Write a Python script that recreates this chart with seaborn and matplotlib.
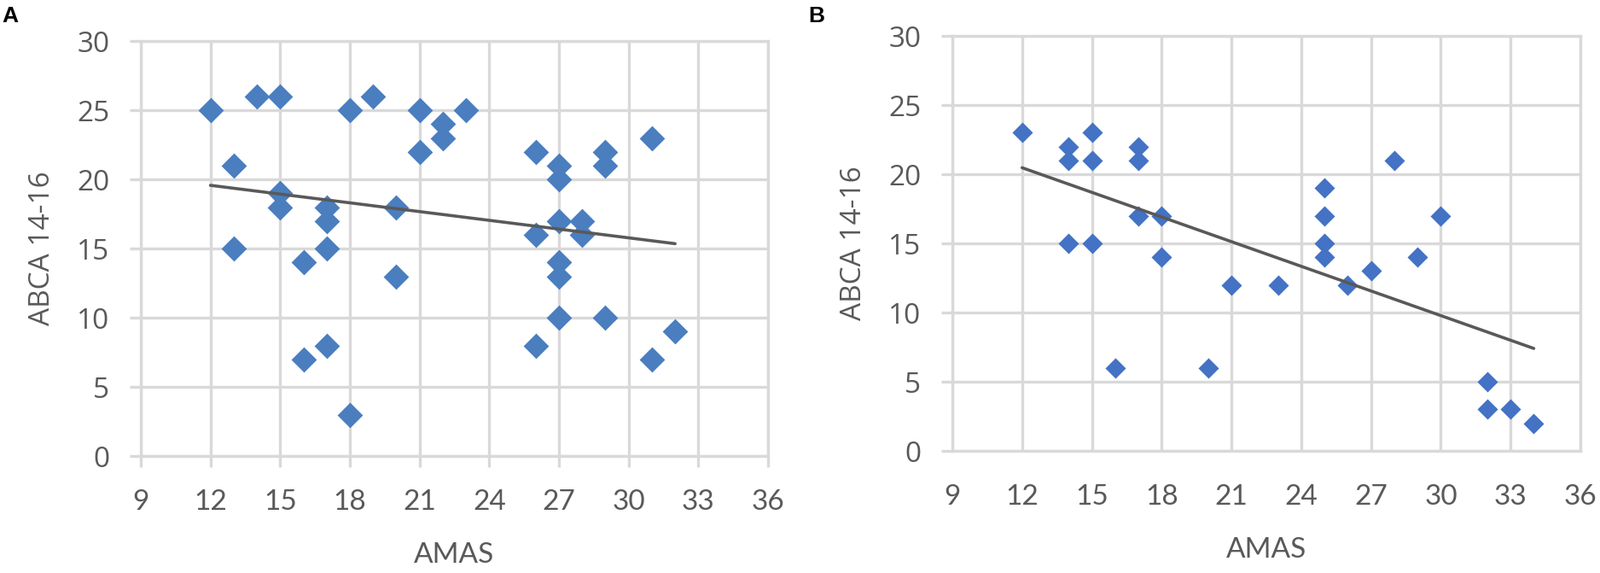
import numpy as np
import pandas as pd
import seaborn as sns
import matplotlib.pyplot as plt

# panel A
amas_a = [12, 13, 13, 14, 15, 15, 15, 16, 16, 17, 17, 17, 17, 18, 18, 19, 20, 20, 21, 21,
          22, 22, 23, 26, 26, 26, 27, 27, 27, 27, 27, 27, 28, 28, 29, 29, 29, 31, 31, 32]
abca_a = [25, 21, 15, 26, 26, 19, 18, 14, 7, 18, 17, 15, 8, 25, 3, 26, 18, 13, 25, 22,
          24, 23, 25, 22, 16, 8, 21, 20, 17, 14, 13, 10, 17, 16, 22, 21, 10, 23, 7, 9]

# panel B
amas_b = [12, 14, 14, 14, 15, 15, 15, 16, 17, 17, 17, 18, 18, 20, 21, 23, 25, 25, 25, 25,
          26, 27, 28, 29, 30, 32, 32, 33, 34]
abca_b = [23, 22, 21, 15, 23, 21, 15, 6, 22, 21, 17, 17, 14, 6, 12, 12, 19, 17, 15, 14,
          12, 13, 21, 14, 17, 5, 3, 3, 2]

x_ticks = list(range(9, 37, 3))
y_ticks = list(range(0, 31, 5))

sns.set_theme(style='white')
plt.rcParams['font.family'] = ['Open Sans', 'DejaVu Sans']

grid_col = '#d9d9d9'
text_col = '#595959'

fig = plt.figure(figsize=(18.75, 6.71), dpi=100)

panels = [
    ('A', amas_a, abca_a, [0.088, 0.204, 0.392, 0.7243], '#4a7ebf', 230, True, 0.001),
    ('B', amas_b, abca_b, [0.5952, 0.2131, 0.3925, 0.7243], '#4472c4', 150, False, 0.505),
]

for letter, xs, ys, rect, col, size, xticks_out, letter_x in panels:
    ax = fig.add_axes(rect)
    df = pd.DataFrame({'AMAS': xs, 'ABCA 14-16': ys})
    sns.scatterplot(data=df, x='AMAS', y='ABCA 14-16', ax=ax, marker='D', s=size,
                    color=col, linewidth=0, zorder=3)
    sns.regplot(data=df, x='AMAS', y='ABCA 14-16', ax=ax, scatter=False, ci=None,
                truncate=True, color='#595959', line_kws={'linewidth': 2.6, 'zorder': 4})

    ax.set_xlim(9, 36)
    ax.set_ylim(0, 30)
    ax.set_xticks(x_ticks)
    ax.set_yticks(y_ticks)
    ax.grid(True, color=grid_col, linewidth=2.4, zorder=0)
    ax.set_axisbelow(True)
    for sp in ax.spines.values():
        sp.set_visible(True)
        sp.set_color(grid_col)
        sp.set_linewidth(2.4)

    ax.tick_params(axis='y', length=9.4, width=2.4, color=grid_col, pad=17,
                   labelsize=24, labelcolor=text_col, left=True)
    if xticks_out:
        ax.tick_params(axis='x', length=9.4, width=2.4, color=grid_col, pad=18.6,
                       labelsize=24, labelcolor=text_col, bottom=True)
    else:
        ax.tick_params(axis='x', length=0, pad=28, labelsize=24, labelcolor=text_col)
    for lab in ax.get_xticklabels():
        lab.set_family(['Lato', 'DejaVu Sans'])

    ax.set_xlabel('AMAS', fontsize=24, color=text_col, family=['Lato', 'DejaVu Sans'])
    ax.set_ylabel('ABCA 14-16', fontsize=24, color=text_col)
    ax.xaxis.set_label_coords(0.5, -0.207)
    ax.yaxis.set_label_coords(-0.135, 0.5)

    fig.text(letter_x, 0.99, letter, fontsize=19, fontweight='bold', color='black',
             family=['Liberation Sans', 'DejaVu Sans'], va='top', ha='left')

fig.savefig('out.png', dpi=100)
